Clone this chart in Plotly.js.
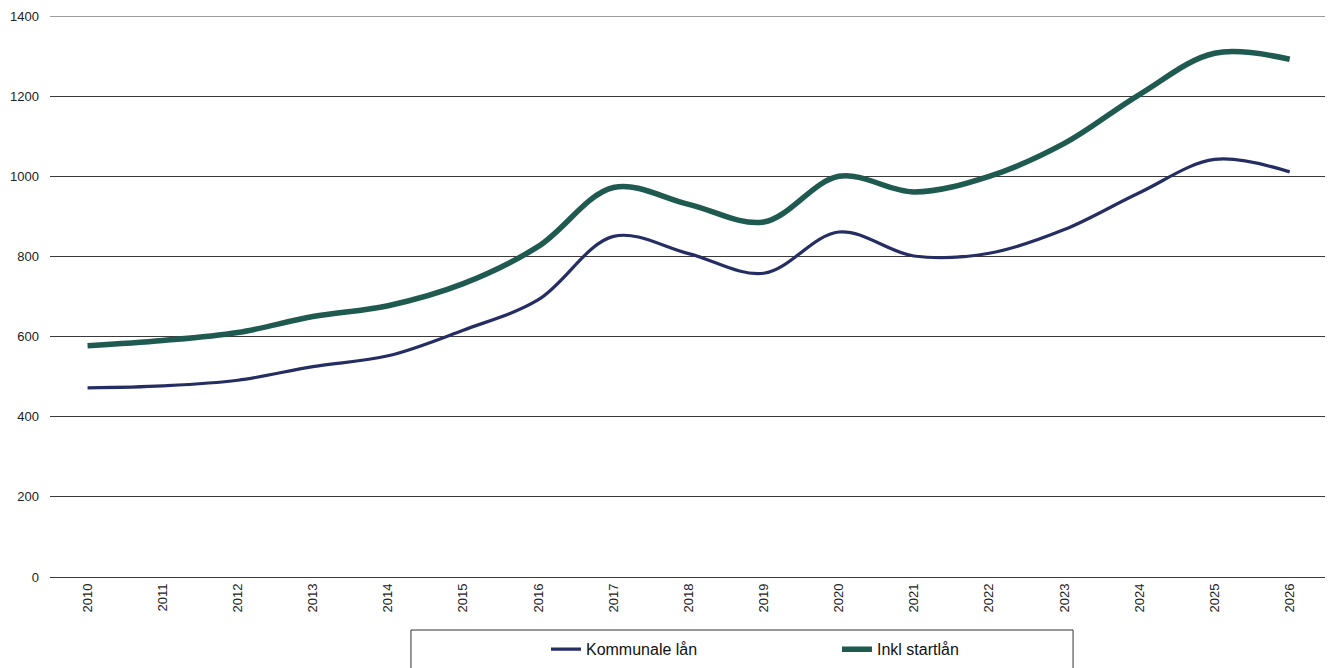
<!DOCTYPE html>
<html>
<head>
<meta charset="utf-8">
<script src="https://cdn.plot.ly/plotly-3.0.1.min.js"></script>
<style>html,body{margin:0;padding:0;background:#fff;}#chart{width:1335px;height:668px;}</style>
</head>
<body>
<div id="chart"></div>
<script>
const years = [2010,2011,2012,2013,2014,2015,2016,2017,2018,2019,2020,2021,2022,2023,2024,2025,2026];
const kommunale = [472,477,491,525,552,616,692,850,807,758,861,801,808,867,959,1042,1011];
const inklStart = [577,590,610,650,677,732,825,972,930,886,1000,961,1000,1082,1204,1307,1292];
const yTicks = [0,200,400,600,800,1000,1200,1400];

const traces = [
  {x: years, y: kommunale, name: 'Kommunale lån', type: 'scatter', mode: 'lines',
   line: {color: '#252e63', width: 3.2, shape: 'spline', smoothing: 1}},
  {x: years, y: inklStart, name: 'Inkl startlån', type: 'scatter', mode: 'lines',
   line: {color: '#1f5a50', width: 5.5, shape: 'spline', smoothing: 1}}
];

const layout = {
  width: 1335, height: 668,
  margin: {l: 50, r: 10, t: 16, b: 91, autoexpand: false},
  paper_bgcolor: '#fff', plot_bgcolor: '#fff',
  font: {family: 'Liberation Sans, Arial, sans-serif', color: '#222', size: 13},
  showlegend: true,
  legend: {orientation: 'h', x: 0.389, xanchor: 'left', yref: 'container', y: 0.028, yanchor: 'middle',
           font: {size: 16, color: '#111'}, entrywidth: 246, entrywidthmode: 'pixels',
           bgcolor: 'rgba(0,0,0,0)', borderwidth: 0},
  xaxis: {range: [2009.5, 2026.47], tickmode: 'array', tickvals: years, ticktext: years.map(String),
          tickangle: -90, tickfont: {size: 13}, showgrid: false, zeroline: false,
          showline: false, ticks: '', ticklabelstandoff: 3, fixedrange: true},
  yaxis: {range: [0, 1400], tickmode: 'array', tickvals: yTicks, ticktext: yTicks.map(String),
          showgrid: true, gridcolor: '#3a3a3a', gridwidth: 1, zeroline: true, zerolinecolor: '#3a3a3a',
          zerolinewidth: 1, tickfont: {size: 13}, ticks: '', ticklen: 0, ticklabelstandoff: 10,
          fixedrange: true},
  shapes: [
    {type: 'line', xref: 'paper', yref: 'y', x0: 0, x1: 1, y0: 1400, y1: 1400,
     line: {color: '#3a3a3a', width: 1}, layer: 'below'},
    {type: 'rect', xref: 'paper', yref: 'paper', x0: 0.2831, x1: 0.8024, y0: -0.0945, y1: -0.175,
     line: {color: '#333', width: 1}, fillcolor: 'rgba(0,0,0,0)'}
  ]
};

Plotly.newPlot('chart', traces, layout, {displayModeBar: false, staticPlot: true});
</script>
</body>
</html>
